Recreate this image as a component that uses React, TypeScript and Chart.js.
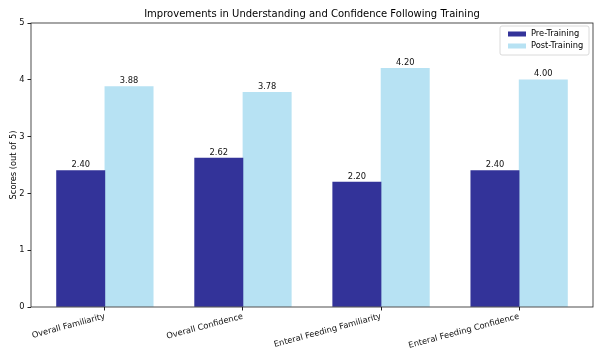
import React, { useEffect, useRef } from "react";
import { Chart, registerables } from "chart.js";

Chart.register(...registerables);

const categories = [
  "Overall Familiarity",
  "Overall Confidence",
  "Enteral Feeding Familiarity",
  "Enteral Feeding Confidence",
];
const preTraining = [2.4, 2.62, 2.2, 2.4];
const postTraining = [3.88, 3.78, 4.2, 4.0];
const seriesNames = ["Pre-Training", "Post-Training"];
const yTicks = [0, 1, 2, 3, 4, 5];
const titleText = "Improvements in Understanding and Confidence Following Training";
const yTitle = "Scores (out of 5)";

const BAR_W = 0.35;
const PRE_COLOR = "#333399";
const POST_COLOR = "#b7e2f3";
const FONT = "'DejaVu Sans', sans-serif";

const overlay = {
  id: "overlay",
  afterDatasetsDraw(chart: any) {
    const ctx = chart.ctx;
    const a = chart.chartArea;
    ctx.save();
    // frame
    ctx.strokeStyle = "#222";
    ctx.lineWidth = 0.8;
    ctx.strokeRect(a.left, a.top, a.right - a.left, a.bottom - a.top);

    // value labels
    ctx.fillStyle = "#111";
    ctx.font = `8.3px ${FONT}`;
    ctx.textAlign = "center";
    ctx.textBaseline = "alphabetic";
    chart.data.datasets.forEach((ds: any, di: number) => {
      const meta = chart.getDatasetMeta(di);
      meta.data.forEach((bar: any, i: number) => {
        const v = ds.data[i].y;
        ctx.fillText(v.toFixed(2), bar.x, bar.y - 3.5);
      });
    });

    // title
    ctx.font = `10px ${FONT}`;
    ctx.fillStyle = "#000";
    ctx.fillText(titleText, (a.left + a.right) / 2, 17);

    // y title
    ctx.save();
    ctx.translate(13.5, (a.top + a.bottom) / 2);
    ctx.rotate(-Math.PI / 2);
    ctx.font = `8.3px ${FONT}`;
    ctx.textBaseline = "middle";
    ctx.fillText(yTitle, 0, 0);
    ctx.restore();

    // legend
    const lx = 500, ly = 26, lw = 89, lh = 29;
    ctx.fillStyle = "rgba(255,255,255,0.8)";
    ctx.strokeStyle = "#d0d0d0";
    ctx.lineWidth = 0.8;
    ctx.beginPath();
    const r = 2;
    ctx.moveTo(lx + r, ly);
    ctx.lineTo(lx + lw - r, ly);
    ctx.quadraticCurveTo(lx + lw, ly, lx + lw, ly + r);
    ctx.lineTo(lx + lw, ly + lh - r);
    ctx.quadraticCurveTo(lx + lw, ly + lh, lx + lw - r, ly + lh);
    ctx.lineTo(lx + r, ly + lh);
    ctx.quadraticCurveTo(lx, ly + lh, lx, ly + lh - r);
    ctx.lineTo(lx, ly + r);
    ctx.quadraticCurveTo(lx, ly, lx + r, ly);
    ctx.closePath();
    ctx.fill();
    ctx.stroke();
    const colors = [PRE_COLOR, POST_COLOR];
    ctx.font = `8.3px ${FONT}`;
    ctx.textAlign = "left";
    ctx.textBaseline = "middle";
    seriesNames.forEach((name, i) => {
      const cy = 34 + i * 12;
      ctx.fillStyle = colors[i];
      ctx.fillRect(508, cy - 2.5, 18, 5);
      ctx.fillStyle = "#000";
      ctx.fillText(name, 531, cy);
    });
    ctx.restore();
  },
};

export default function App() {
  const ref = useRef<HTMLCanvasElement>(null);
  useEffect(() => {
    if (!ref.current) return;
    const chart = new Chart(ref.current, {
      type: "bar",
      data: {
        datasets: [
          {
            label: seriesNames[0],
            data: preTraining.map((v, i) => ({ x: i, y: v })),
            backgroundColor: PRE_COLOR,
            grouped: false,
            barPercentage: 1,
            categoryPercentage: 1,
          },
          {
            label: seriesNames[1],
            data: postTraining.map((v, i) => ({ x: i + BAR_W, y: v })),
            backgroundColor: POST_COLOR,
            grouped: false,
            barPercentage: 1,
            categoryPercentage: 1,
          },
        ] as any,
      },
      options: {
        animation: false,
        responsive: false,
        maintainAspectRatio: false,
        layout: { padding: { left: 0, right: 7, top: 23, bottom: 0 } },
        plugins: {
          legend: { display: false },
          title: { display: false },
          tooltip: { enabled: false },
        },
        scales: {
          x: {
            type: "linear",
            offset: false,
            min: -0.36,
            max: 3 + 0.35 + 0.36,
            afterBuildTicks: (scale: any) => {
              scale.ticks = categories.map((_, i) => ({ value: i + BAR_W / 2 }));
            },
            afterFit: (scale: any) => {
              scale.height = 53;
            },
            grid: {
              offset: false,
              drawOnChartArea: false,
              drawTicks: true,
              tickLength: 3.5,
              tickColor: "#222",
            },
            border: { display: false },
            ticks: {
              autoSkip: false,
              minRotation: 15,
              maxRotation: 15,
              padding: 1,
              color: "#111",
              font: { family: FONT, size: 8.3 },
              callback: (_v: any, idx: number) => categories[idx],
            },
          },
          y: {
            min: 0,
            max: 5,
            afterBuildTicks: (scale: any) => {
              scale.ticks = yTicks.map((v) => ({ value: v }));
            },
            afterFit: (scale: any) => {
              scale.width = 31;
            },
            grid: {
              drawOnChartArea: false,
              drawTicks: true,
              tickLength: 3.5,
              tickColor: "#222",
            },
            border: { display: false },
            ticks: {
              padding: 3,
              color: "#111",
              font: { family: FONT, size: 8.3 },
              callback: (v: any) => String(v),
            },
          },
        },
      } as any,
      plugins: [overlay],
    });
    return () => chart.destroy();
  }, []);
  return (
    <div style={{ position: "fixed", left: 0, top: 0, width: 600, height: 360, background: "#fff" }}>
      <canvas ref={ref} width={600} height={360} style={{ width: 600, height: 360 }} />
    </div>
  );
}
